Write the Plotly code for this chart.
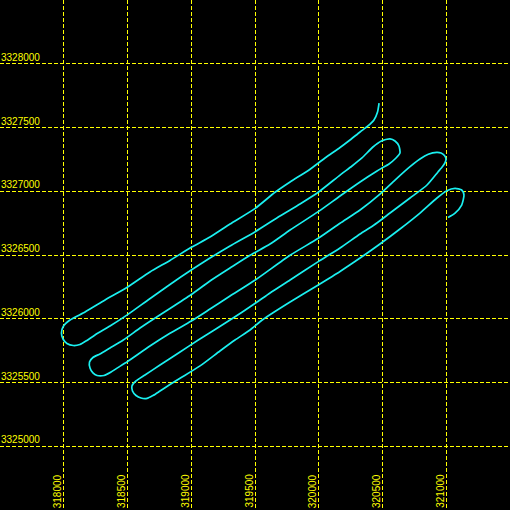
import plotly.graph_objects as go

# Grid / tick values
x_ticks = [318000, 318500, 319000, 319500, 320000, 320500, 321000]
y_ticks = [3325000, 3325500, 3326000, 3326500, 3327000, 3327500, 3328000]
x_range = [317500, 321500]
y_range = [3324500, 3328500]

# Survey track (easting, northing)
easting = [
    320473, 320461, 320433, 320386, 320324, 320245, 320167, 320049, 319924, 319775,
    319657, 319502, 319304, 319147, 319000, 318833, 318676, 318498, 318324, 318167,
    318049, 317996,
    317982, 317994, 318025, 318075, 318127, 318174,
    318245, 318363, 318498, 318661, 318833, 319000, 319147, 319304, 319502, 319696,
    319853, 319996, 320167, 320261, 320339, 320425, 320492, 320559,
    320598, 320629, 320637, 320606, 320551,
    320496, 320457, 320324, 320167, 319996, 319775, 319618, 319461, 319304, 319147,
    319000, 318833, 318702, 318598, 318467, 318363, 318284, 318229,
    318202, 318206, 318229, 318261, 318316,
    318371, 318415, 318498, 318676, 318833, 319000, 319147, 319304, 319502, 319775,
    319996, 320167, 320324, 320480, 320598, 320716, 320794, 320859, 320925,
    320959, 320986, 320998, 320990, 320971,
    320935, 320849, 320716, 320559, 320428, 320324, 320167, 319996, 319775, 319618,
    319502, 319304, 319055, 318912, 318755, 318637, 318567,
    318535, 318539, 318567, 318606, 318653, 318700,
    318755, 318833, 318912, 319069, 319225, 319343, 319461, 319565, 319775, 319996,
    320167, 320324, 320480, 320637, 320794, 320925, 321004, 321069,
    321121, 321139, 321121, 321069, 321014,
]
northing = [
    3327692, 3327622, 3327559, 3327512, 3327465, 3327402, 3327343, 3327261, 3327167, 3327073,
    3326992, 3326866, 3326743, 3326641, 3326560, 3326457, 3326367, 3326247, 3326147, 3326053,
    3325990, 3325939,
    3325888, 3325841, 3325806, 3325790, 3325798, 3325825,
    3325873, 3325943, 3326030, 3326147, 3326269, 3326382, 3326476, 3326571, 3326683, 3326806,
    3326900, 3326992, 3327127, 3327198, 3327261, 3327347, 3327394, 3327410,
    3327394, 3327355, 3327300, 3327261, 3327214,
    3327182, 3327159, 3327073, 3326963, 3326840, 3326696, 3326586, 3326498, 3326398, 3326296,
    3326190, 3326080, 3325996, 3325927, 3325833, 3325771, 3325724, 3325696,
    3325661, 3325614, 3325575, 3325555, 3325555,
    3325582, 3325611, 3325663, 3325786, 3325886, 3325982, 3326076, 3326178, 3326304, 3326498,
    3326631, 3326749, 3326853, 3326978, 3327088, 3327193, 3327253, 3327290, 3327305,
    3327300, 3327280, 3327253, 3327222, 3327194,
    3327151, 3327049, 3326947, 3326829, 3326731, 3326665, 3326555, 3326448, 3326304, 3326202,
    3326121, 3325990, 3325833, 3325739, 3325637, 3325559, 3325512,
    3325473, 3325433, 3325398, 3325378, 3325375, 3325398,
    3325433, 3325484, 3325533, 3325630, 3325747, 3325833, 3325912, 3325996, 3326131, 3326265,
    3326371, 3326476, 3326586, 3326704, 3326829, 3326945, 3327004, 3327023,
    3327010, 3326971, 3326892, 3326829, 3326794,
]

YELLOW = "#FFFF00"
CYAN = "#1AF0F0"
FONT = dict(family="Liberation Sans, Arial, sans-serif", size=10, color=YELLOW)

fig = go.Figure()
fig.add_trace(go.Scatter(
    x=easting, y=northing, mode="lines",
    line=dict(color=CYAN, width=1.7, shape="spline", smoothing=0.6),
    hoverinfo="skip", showlegend=False,
))

annotations = []
for v in y_ticks:
    annotations.append(dict(
        x=0, xref="paper", xanchor="left", y=v, yref="y", yanchor="bottom",
        text=str(v), showarrow=False, font=FONT, borderpad=0,
    ))
for v in x_ticks:
    annotations.append(dict(
        x=v, xref="x", xanchor="right", y=0, yref="paper", yanchor="bottom",
        text=str(v), textangle=-90, showarrow=False, font=FONT, borderpad=0,
        yshift=1,
    ))

axis_common = dict(
    showgrid=True, gridcolor=YELLOW, gridwidth=1, griddash="4px,2px",
    zeroline=False, showline=False, showticklabels=False, ticks="",
    fixedrange=True,
)
fig.update_layout(
    width=510, height=510,
    margin=dict(l=0, r=0, t=0, b=0),
    paper_bgcolor="black", plot_bgcolor="black",
    xaxis=dict(range=x_range, tickvals=x_ticks, **axis_common),
    yaxis=dict(range=y_range, tickvals=y_ticks, **axis_common),
    annotations=annotations,
    showlegend=False,
)
fig.write_html(
    "out.html",
    config={"displayModeBar": False},
    post_script="document.body.style.margin='0';document.body.style.overflow='hidden';",
)
